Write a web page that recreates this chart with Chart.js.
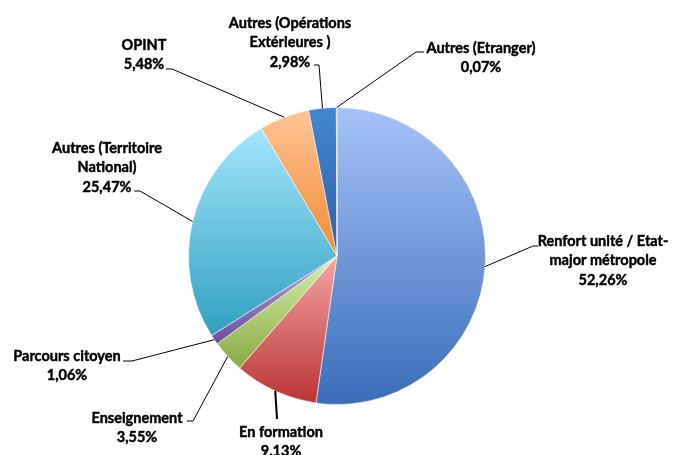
<!DOCTYPE html>
<html>
<head>
<meta charset="utf-8">
<script src="https://cdn.jsdelivr.net/npm/chart.js@4.4.1/dist/chart.umd.min.js"></script>
<style>
    html, body { margin: 0; padding: 0; background: #ffffff; }
    canvas { display: block; }
</style>
</head>
<body>
<canvas id="chartRepartition" width="674" height="455"></canvas>
<script>

// =====================================================
// Données
// =====================================================

const categories = [
    ["Renfort unité / Etat-", "major métropole"],
    ["En formation"],
    ["Enseignement"],
    ["Parcours citoyen"],
    ["Autres (Territoire", "National)"],
    ["OPINT"],
    ["Autres (Opérations", "Extérieures )"],
    ["Autres (Etranger)"]
];

const parts = [52.26, 9.13, 3.55, 1.06, 25.47, 5.48, 2.98, 0.07];

const partLabels = ["52,26%", "9.13%", "3,55%", "1,06%", "25,47%", "5,48%", "2,98%", "0,07%"];


// =====================================================
// Couleurs (haut / bas du dégradé)
// =====================================================

const couleursHaut = ["#a6c3f8", "#f3a6a5", "#d8f1aa", "#b6a6da", "#a5e5fd", "#fdc495", "#4486d2", "#9a88c6"];
const couleursBas  = ["#3a6db8", "#b93432", "#88aa44", "#6a4e98", "#30a0bf", "#f38a34", "#2d61a5", "#6a4e98"];


// =====================================================
// Placement des étiquettes
// coude, fin du trait, centre du texte, 1re ligne
// =====================================================

const etiquettes = [
    { coude: [533, 246], fin: [538, 246], x: 603, y: 241 },
    { coude: [277, 419], fin: [277, 419], x: 281, y: 432 },
    { coude: [193, 421], fin: [187, 421], x: 137, y: 418 },
    { coude: [132, 361], fin: [123, 361], x: 67,  y: 356 },
    { coude: [140, 191], fin: [134, 191], x: 107, y: 148 },
    { coude: [172, 69],  fin: [166, 69],  x: 144, y: 45 },
    { coude: [319, 65],  fin: [314, 65],  x: 290, y: 23 },
    { coude: [416, 52],  fin: [424, 52],  x: 481, y: 48 }
];

const police = "bold 14.5px Lato, 'Open Sans', sans-serif";
const interligne = 19.5;


// =====================================================
// Dégradé vertical par secteur
// =====================================================

function degradeSecteur(context) {

    const chart = context.chart;
    const i = context.dataIndex;
    const area = chart.chartArea;
    const ctrl = chart.getDatasetMeta(0).controller;

    if (!area || !ctrl || !ctrl.outerRadius) return couleursHaut[i];

    const cy = (area.top + area.bottom) / 2 + (ctrl.offsetY || 0);
    const r = ctrl.outerRadius;

    const total = parts.reduce((a, b) => a + b, 0);
    let avant = 0;
    for (let k = 0; k < i; k++) avant += parts[k];

    const a0 = -Math.PI / 2 + 2 * Math.PI * avant / total;
    const a1 = a0 + 2 * Math.PI * parts[i] / total;

    // bornes verticales du secteur (centre compris)
    let yMin = 0, yMax = 0;
    const pas = 60;
    for (let s = 0; s <= pas; s++) {
        const a = a0 + (a1 - a0) * s / pas;
        yMin = Math.min(yMin, Math.sin(a));
        yMax = Math.max(yMax, Math.sin(a));
    }
    if (a0 < Math.PI / 2 && a1 > Math.PI / 2) yMax = 1;
    if (a0 < 3 * Math.PI / 2 && a1 > 3 * Math.PI / 2) yMin = -1;

    const g = chart.ctx.createLinearGradient(0, cy + r * yMin, 0, cy + r * yMax);
    g.addColorStop(0, couleursHaut[i]);
    g.addColorStop(1, couleursBas[i]);
    return g;
}


// =====================================================
// Étiquettes avec traits de rappel
// =====================================================

const pluginEtiquettes = {

    id: "etiquettes",

    afterDatasetsDraw(chart) {

        const ctx = chart.ctx;
        const arcs = chart.getDatasetMeta(0).data;

        ctx.save();

        arcs.forEach((arc, i) => {

            const pos = etiquettes[i];
            const milieu = (arc.startAngle + arc.endAngle) / 2;
            const px = arc.x + Math.cos(milieu) * arc.outerRadius;
            const py = arc.y + Math.sin(milieu) * arc.outerRadius;

            ctx.strokeStyle = "#000000";
            ctx.lineWidth = i === 1 ? 2 : 1;
            ctx.beginPath();
            ctx.moveTo(px, py);
            ctx.lineTo(pos.coude[0], pos.coude[1]);
            ctx.lineTo(pos.fin[0], pos.fin[1]);
            ctx.stroke();

            const lignes = categories[i].concat([partLabels[i]]);

            ctx.fillStyle = "#000000";
            ctx.strokeStyle = "#000000";
            ctx.lineWidth = 0.45;
            ctx.lineJoin = "round";
            ctx.font = police;
            ctx.textAlign = "center";
            ctx.textBaseline = "middle";

            lignes.forEach((txt, k) => {
                ctx.fillText(txt, pos.x, pos.y + k * interligne);
                ctx.strokeText(txt, pos.x, pos.y + k * interligne);
            });

        });

        ctx.restore();

    }

};


// =====================================================
// Graphique
// =====================================================

new Chart(document.getElementById("chartRepartition"), {

    type: "pie",

    data: {

        labels: categories,

        datasets: [{

            data: parts,

            backgroundColor: degradeSecteur,

            borderColor: "rgba(255,255,255,0.55)",

            borderWidth: 1

        }]

    },

    options: {

        responsive: false,

        animation: false,

        events: [],

        layout: {

            padding: { top: 107, bottom: 50, left: 0, right: 0 }

        },

        plugins: {

            legend: { display: false },

            tooltip: { enabled: false }

        }

    },

    plugins: [pluginEtiquettes]

});

</script>
</body>
</html>
